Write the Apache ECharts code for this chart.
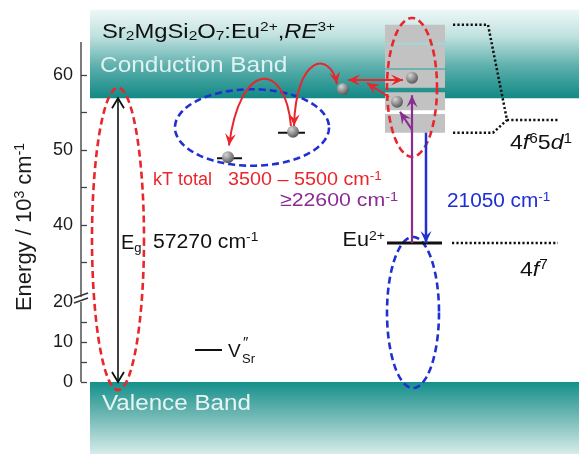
<!DOCTYPE html>
<html><head><meta charset="utf-8">
<script src="https://cdn.jsdelivr.net/npm/echarts@6/dist/echarts.min.js"></script>
<style>html,body{margin:0;padding:0;background:#fff}#c{width:579px;height:454px}</style>
</head><body><div id="c"></div>
<script>
// ---------- data: energies in 10^3 cm^-1 ----------
var yLabelValues = [0, 10, 20, 40, 50, 60];
var yTickValues = [0, 5, 10, 15, 35, 40, 45, 50, 55, 60];
var axisRange = [-18, 70];
var axisLineTop = 64.4;
var axisBreak = [20, 30.4];
var conductionBand = [56.9, 68.7];
var valenceBand = [-18, 0];
var bandGap = [0, 56.9];            // E_g = 57270 cm-1
var trapLevels = [48.9, 52.3];       // RE3+ traps
var vSrLevel = 8.0;                  // V''Sr
var euGround = 37.6;                 // Eu2+ 4f7
var eu5dLevels = [[64.3, 66.7], [60.9, 64.0], [58.3, 60.7], [55.3, 57.7], [52.3, 54.8]];
var emission = [52.3, 37.6];         // 21050 cm-1
var excitation = [37.6, 57.3];       // >= 22600 cm-1
var cbElectron = 58.0;
var eu5dElectrons = [59.5, 56.3];

// ---------- broken energy scale ----------
function toD(E){ if (E <= 20) return 4*E; if (E < 30) return 80 + 0.2*(E-20); return 157 + 7.5*(E-40); }
function fromD(d){ if (d <= 80) return d/4; if (d < 82) return 20 + (d-80)*5; return 40 + (d-157)/7.5; }

var FONT = '"Liberation Sans", Arial, Helvetica, sans-serif';
var RED = '#e8262c', BLUE = '#1f2fd2', PURPLE = '#8a2c92', BLACK = '#111111';

function P(api, x, E){ return api.coord([x, toD(E)]); }
function ellipse(api, cx, eTop, eBot, rx, color){
  var t = P(api, cx, eTop), b = P(api, cx, eBot);
  var cy = (t[1]+b[1])/2, ry = (b[1]-t[1])/2, pts = [];
  for (var i = 0; i <= 160; i++){ var a = i/160*2*Math.PI; pts.push([t[0]+rx*Math.cos(a), cy+ry*Math.sin(a)]); }
  return {type:'polyline', shape:{points:pts}, style:{stroke:color, lineWidth:2.6, lineDash:[7,4], fill:null}};
}
function head(tip, from, color, L, W, open){
  var dx = tip[0]-from[0], dy = tip[1]-from[1], len = Math.sqrt(dx*dx+dy*dy) || 1;
  var ux = dx/len, uy = dy/len, nx = -uy, ny = ux;
  var a = [tip[0]-L*ux+W*nx, tip[1]-L*uy+W*ny], c = [tip[0]-L*ux-W*nx, tip[1]-L*uy-W*ny];
  if (open) return {type:'polyline', shape:{points:[a, tip, c]}, style:{stroke:color, lineWidth:1.8, fill:null}};
  var m = [tip[0]-0.6*L*ux, tip[1]-0.6*L*uy];
  return {type:'polygon', shape:{points:[tip, a, m, c]}, style:{fill:color}};
}
function line(p, q, color, w, dash){
  return {type:'line', shape:{x1:p[0], y1:p[1], x2:q[0], y2:q[1]}, style:{stroke:color, lineWidth:w, lineDash:dash || null}};
}
function richStyles(F, color){
  var s = Math.round(F*0.66), LH = Math.round(F*1.1);
  return {
    n:{fontSize:F, lineHeight:LH, verticalAlign:'middle', fontFamily:FONT, fill:color, color:color},
    i:{fontSize:F, lineHeight:LH, verticalAlign:'middle', fontFamily:FONT, fontStyle:'italic', fill:color, color:color},
    b:{fontSize:s, lineHeight:s, verticalAlign:'bottom', fontFamily:FONT, fill:color, color:color},
    p:{fontSize:s, lineHeight:s, verticalAlign:'top', fontFamily:FONT, fill:color, color:color}
  };
}
function text(api, x, E, str, F, color, sx, align){
  var p = P(api, x, E);
  return {type:'text', x:p[0], y:p[1], scaleX:sx || 1, style:{text:str, rich:richStyles(F, color), fill:color, fontSize:F, fontFamily:FONT, align:align || 'left', verticalAlign:'middle'}};
}
function sphere(api, x, E){
  var p = P(api, x, E);
  return {type:'circle', shape:{cx:p[0], cy:p[1]-1, r:6}, style:{fill:new echarts.graphic.RadialGradient(0.35, 0.3, 0.8, [{offset:0, color:'#d6d6d6'}, {offset:1, color:'#4a4a4a'}])}};
}

// ---------- scene pieces ----------
function renderBands(params, api){
  var cb0 = P(api, 90, conductionBand[1]), cb1 = P(api, 579, conductionBand[0]);
  var vb0 = P(api, 90, valenceBand[1]), vb1 = P(api, 579, valenceBand[0]);
  return {type:'group', children:[
    {type:'rect', shape:{x:cb0[0], y:cb0[1], width:cb1[0]-cb0[0], height:cb1[1]-cb0[1]},
     style:{fill:new echarts.graphic.LinearGradient(0,0,0,1,[{offset:0,color:'#eef7f7'},{offset:0.3,color:'#bfe1df'},{offset:0.65,color:'#5aaeab'},{offset:1,color:'#128985'}])}},
    {type:'rect', shape:{x:vb0[0], y:vb0[1], width:vb1[0]-vb0[0], height:vb1[1]-vb0[1]},
     style:{fill:new echarts.graphic.LinearGradient(0,0,0,1,[{offset:0,color:'#14908b'},{offset:0.45,color:'#6cb6b2'},{offset:1,color:'#d6ecea'}])}}
  ]};
}
function renderAxis(params, api){
  var p20 = P(api, 81, axisBreak[0]);
  return {type:'group', children:[
    line(P(api, 81, 0), p20, '#444', 1.4),
    line(P(api, 81, axisBreak[1]), P(api, 81, axisLineTop), '#444', 1.4),
    line([p20[0]-7, p20[1]+1], [p20[0]+7, p20[1]-4], '#333', 1.4),
    line([p20[0]-7, p20[1]-4], [p20[0]+7, p20[1]-9], '#333', 1.4)
  ]};
}
function renderStack(params, api){
  var ch = eu5dLevels.map(function(b){
    var t = P(api, 385, b[1]), q = P(api, 445, b[0]);
    return {type:'rect', shape:{x:t[0], y:t[1], width:q[0]-t[0], height:q[1]-t[1]}, style:{fill:'#c2c2c2'}};
  });
  return {type:'group', children:ch};
}
function renderEllipses(params, api){
  return {type:'group', children:[
    ellipse(api, 252, 58.1, 47.9, 77, BLUE),
    ellipse(api, 118, bandGap[1]+1.4, bandGap[0]-2, 26, RED),
    ellipse(api, 412, eu5dLevels[0][1]+0.9, 49.1, 25, RED),
    ellipse(api, 413, euGround+0.8, -1.5, 26, BLUE)
  ]};
}
function renderLevels(params, api){
  var top5d = eu5dLevels[0][1], bot5d = eu5dLevels[eu5dLevels.length-1][0], lab5d = 54.0;
  var dot = [2.2, 2.2];
  return {type:'group', children:[
    line(P(api, 217, trapLevels[0]), P(api, 242, trapLevels[0]), BLACK, 2),
    line(P(api, 278, trapLevels[1]), P(api, 305, trapLevels[1]), BLACK, 2),
    line(P(api, 195, vSrLevel), P(api, 222, vSrLevel), BLACK, 2),
    line(P(api, 387, euGround), P(api, 442, euGround), BLACK, 3),
    line(P(api, 452, euGround), P(api, 558, euGround), BLACK, 2.5, dot),
    {type:'polyline', shape:{points:[P(api,453,top5d), P(api,488,top5d), P(api,507,lab5d), P(api,558,lab5d)]}, style:{stroke:BLACK, lineWidth:2.5, lineDash:dot, fill:null}},
    {type:'polyline', shape:{points:[P(api,453,bot5d), P(api,493,bot5d), P(api,507,lab5d)]}, style:{stroke:BLACK, lineWidth:2.5, lineDash:dot, fill:null}}
  ]};
}
function curve(api, pts, color, heads){
  var p = pts.map(function(a){ return P(api, a[0], a[1]); });
  var ch = [{type:'bezierCurve', shape:{x1:p[0][0], y1:p[0][1], cpx1:p[1][0], cpy1:p[1][1], cpx2:p[2][0], cpy2:p[2][1], x2:p[3][0], y2:p[3][1]}, style:{stroke:color, lineWidth:2, fill:null}}];
  if (heads.indexOf('start') >= 0) ch.push(head(p[0], p[1], color, 12, 5.5));
  if (heads.indexOf('end') >= 0) ch.push(head(p[3], p[2], color, 12, 5.5));
  return ch;
}
function arrow(api, a, b, color, w, heads, open){
  var p = P(api, a[0], a[1]), q = P(api, b[0], b[1]);
  var ch = [line(p, q, color, w)];
  if (heads.indexOf('start') >= 0) ch.push(head(p, q, color, open ? 10 : 12, open ? 6 : 5.5, open));
  if (heads.indexOf('end') >= 0) ch.push(head(q, p, color, open ? 10 : 12, open ? 6 : 5.5, open));
  return ch;
}
function renderArrows(params, api){
  var ch = [];
  ch = ch.concat(arrow(api, [118, bandGap[0]], [118, bandGap[1]], BLACK, 1.6, ['start','end'], true));
  ch = ch.concat(curve(api, [[291, 53.2], [285, 62.0], [240, 62.0], [229, 50.6]], RED, ['end']));
  ch = ch.concat(curve(api, [[294, 53.2], [296, 62.7], [330, 63.3], [337, 58.8]], RED, ['start','end']));
  ch = ch.concat(arrow(api, [348, 59.33], [403, 59.33], RED, 2, ['start','end']));
  ch = ch.concat(arrow(api, [389, 57.07], [367, 58.93], RED, 2, ['end']));
  ch = ch.concat(arrow(api, [412, excitation[0]], [412, excitation[1]], PURPLE, 2.2, ['end']));
  ch = ch.concat(arrow(api, [412, 52.7], [400, 55.1], PURPLE, 2.2, ['end']));
  ch = ch.concat(arrow(api, [426, emission[0]], [426, emission[1]], BLUE, 2.5, ['end']));
  ch.push(sphere(api, 228, trapLevels[0]));
  ch.push(sphere(api, 293, trapLevels[1]));
  ch.push(sphere(api, 343, cbElectron));
  ch.push(sphere(api, 412, eu5dElectrons[0]));
  ch.push(sphere(api, 397, eu5dElectrons[1]));
  return {type:'group', children:ch};
}
function renderTexts(params, api){
  return {type:'group', children:[
    text(api, 102, 65.7, '{n|Sr}{b|2}{n|MgSi}{b|2}{n|O}{b|7}{n|:Eu}{p|2+}{n|,}{i|RE}{p|3+}', 20, BLACK, 1.19),
    text(api, 100, 61.2, '{n|Conduction Band}', 22, '#dff2f1', 1.11),
    text(api, 102, -5.5, '{n|Valence Band}', 22, '#e6f4f3', 1.1),
    text(api, 121, 37.5, '{n|E}{b|g}', 20, BLACK),
    text(api, 153, 37.7, '{n|57270 cm}{p|-1}', 20, BLACK, 1.06),
    text(api, 153, 46.0, '{n|kT total}', 18, RED),
    text(api, 228, 46.0, '{n|3500 – 5500 cm}{p|-1}', 19, RED, 1.04),
    text(api, 280, 43.2, '{n|≥22600 cm}{p|-1}', 19, PURPLE, 1.12),
    text(api, 447, 43.1, '{n|21050 cm}{p|-1}', 20, BLUE, 1.04),
    text(api, 385, 37.9, '{n|Eu}{p|2+}', 20, BLACK, 1.08, 'right'),
    text(api, 520, 34.0, '{n|4}{i|f}{p|7}', 21, BLACK, 1.1),
    text(api, 510, 50.9, '{n|4}{i|f}{p|6}{n|5}{i|d}{p|1}', 21, BLACK, 1.1),
    text(api, 228, 7.6, '{n|V}', 19, BLACK),
    text(api, 243, 9.8, '{n|″}', 15, BLACK),
    text(api, 242, 5.6, '{n|Sr}', 13, BLACK)
  ]};
}

var one = [[81, 0]];
function cs(name, fn, z){ return {type:'custom', name:name, data:one, renderItem:fn, silent:true, z:z}; }

var chart = echarts.init(document.getElementById('c'), null, {renderer:'canvas'});
chart.setOption({
  animation:false,
  backgroundColor:'#ffffff',
  grid:{left:81, right:0, top:0, bottom:0},
  xAxis:{type:'value', min:81, max:579, show:false},
  yAxis:{type:'value', min:toD(axisRange[0]), max:toD(axisRange[1]),
    axisLine:{show:false}, splitLine:{show:false},
    axisTick:{show:true, inside:true, length:6, customValues:yTickValues.map(toD), lineStyle:{color:'#444', width:1.3}},
    axisLabel:{customValues:yLabelValues.map(toD), formatter:function(v){ return String(Math.round(fromD(v))); }, margin:8, fontSize:18, color:'#1a1a1a', fontFamily:FONT},
    name:'{n|Energy / 10}{p|3}{n| cm}{p|-1}', nameLocation:'middle', nameGap:44, nameRotate:90,
    nameTextStyle:{fontSize:22, color:'#1a1a1a', fontFamily:FONT, rich:{
      n:{fontSize:22, lineHeight:24, verticalAlign:'middle', color:'#1a1a1a', fontFamily:FONT},
      p:{fontSize:14, lineHeight:14, verticalAlign:'top', color:'#1a1a1a', fontFamily:FONT}}}
  },
  series:[
    cs('bands', renderBands, 1),
    cs('axis', renderAxis, 2),
    cs('5d levels', renderStack, 3),
    cs('ellipses', renderEllipses, 4),
    cs('levels', renderLevels, 5),
    cs('arrows', renderArrows, 6),
    cs('texts', renderTexts, 7)
  ]
});
</script></body></html>
